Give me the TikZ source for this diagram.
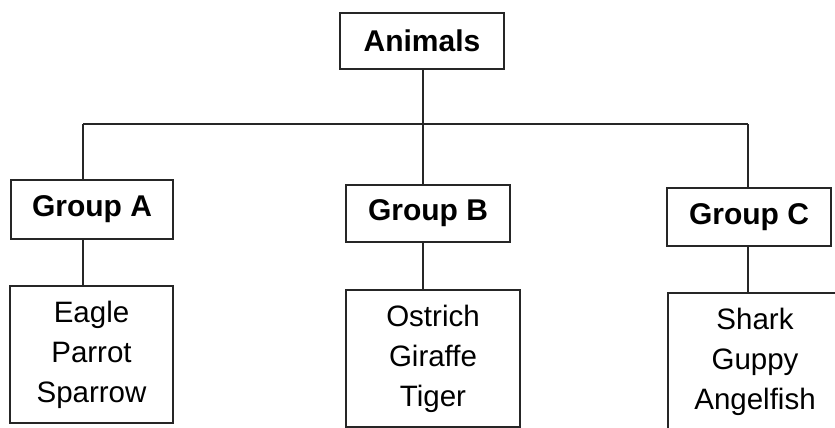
\documentclass[tikz,border=0pt]{standalone}
\usepackage{fontspec}
\setmainfont{Liberation Sans}
\usetikzlibrary{calc}

\tikzset{
	box/.style={draw=black!85, line width=1.6pt, inner sep=0pt, fill=white},
	grp/.style={box, font=\bfseries\fontsize{30}{34}\selectfont},
	leaf/.style={box, align=center, font=\fontsize{29.5}{40}\selectfont},
	link/.style={draw=black!85, line width=1.6pt}
}

\begin{document}
\begin{tikzpicture}[x=1pt, y=-1pt]
			%%%%% START %%%%%
			
			\useasboundingbox (0, 0) rectangle (835, 428);
			\clip (0, 0) rectangle (835, 428);
			
			\node[grp, minimum width=164pt, minimum height=56pt] (animals) at (422, 41) {Animals};
			
			\node[grp, minimum width=162pt, minimum height=59pt] (grpA) at (92, 209.5) {Group A};
			\node[grp, minimum width=164pt, minimum height=57pt] (grpB) at (428, 213.5) {Group B};
			\node[grp, minimum width=164pt, minimum height=58pt] (grpC) at (749, 217) {Group C};
			
			\node[leaf, minimum width=163pt, minimum height=137pt] (leafA) at (91.5, 354.5) {Eagle\\Parrot\\Sparrow};
			\node[leaf, minimum width=174pt, minimum height=137pt] (leafB) at (433, 358.5) {Ostrich\\Giraffe\\Tiger};
			\node[leaf, minimum width=174pt, minimum height=137pt] (leafC) at (755, 361.5) {Shark\\Guppy\\Angelfish};
			
			\coordinate (busL) at (83, 124);
			\coordinate (busM) at (423, 124);
			\coordinate (busR) at (748, 124);
			
			\draw[link] (animals.south -| busM) -- (busM);
			\draw[link] (busL) -- (busR);
			\draw[link] (busL) -- (busL |- grpA.north);
			\draw[link] (busM) -- (busM |- grpB.north);
			\draw[link] (busR) -- (busR |- grpC.north);
			
			\draw[link] (grpA.south -| busL) -- (leafA.north -| busL);
			\draw[link] (grpB.south -| busM) -- (leafB.north -| busM);
			\draw[link] (grpC.south -| busR) -- (leafC.north -| busR);
			
			%%%%% END %%%%%
		\end{tikzpicture}
\end{document}
